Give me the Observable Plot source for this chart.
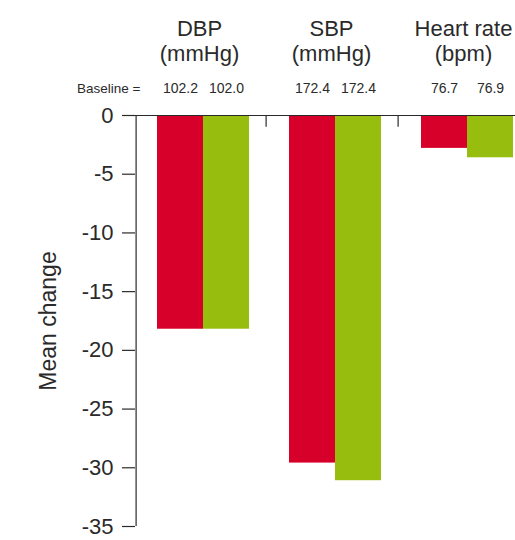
<!DOCTYPE html>
<html>
<head>
<meta charset="utf-8">
<script src="https://cdn.jsdelivr.net/npm/d3@7"></script>
<script src="https://cdn.jsdelivr.net/npm/@observablehq/plot@0.6"></script>
<style>
  html, body { margin: 0; padding: 0; background: #fff; overflow: hidden; }
  #chart svg { max-width: none !important; display: block; }
</style>
</head>
<body>
<div id="chart"></div>
<script>
// ---- data ----
const groups = ["DBP", "SBP", "Heart rate"];
const units = ["(mmHg)", "(mmHg)", "(bpm)"];
const series = ["Treatment A", "Treatment B"];
const meanChangeA = [-18.2, -29.6, -2.8];
const meanChangeB = [-18.2, -31.1, -3.6];
const baselineA = [102.2, 172.4, 76.7];
const baselineB = [102.0, 172.4, 76.9];
const baselineLabel = "Baseline =";
const yTicks = [0, -5, -10, -15, -20, -25, -30, -35];
const yLabel = "Mean change";

// ---- tables built from the arrays ----
const rows = groups.flatMap((g, i) => [
  {group: g, series: series[0], change: meanChangeA[i], baseline: baselineA[i]},
  {group: g, series: series[1], change: meanChangeB[i], baseline: baselineB[i]}
]);
const headerRows = groups.map((g, i) => ({group: g, header: g + "\n" + units[i]}));
const firstGroup = [{group: groups[0], series: series[0]}];
const boundaryRows = groups.slice(1).map(g => ({group: g, series: series[0]}));
const yMin = d3.min(yTicks), yMax = d3.max(yTicks);

const ink = "#2a2a2a";
const font = "'Liberation Sans', Arial, Helvetica, sans-serif";
const fmt = d3.format(".1f");

const chart = Plot.plot({
  width: 531,
  height: 540,
  marginLeft: 135,
  marginRight: 0,
  marginTop: 115,
  marginBottom: 14,
  style: {fontFamily: font, color: ink, background: "#fff"},
  fx: {domain: groups, padding: 0, axis: null},
  x: {domain: series, paddingInner: 0, paddingOuter: 0.41, align: 0.547, axis: null},
  y: {domain: [yMin, yMax]},
  color: {domain: series, range: ["#d6002a", "#97bd0e"]},
  marks: [
    Plot.barY(rows, {fx: "group", x: "series", y: "change", fill: "series"}),
    Plot.ruleY([0], {stroke: ink, strokeWidth: 1.2}),
    // y axis line (left edge of the first group)
    Plot.ruleX(firstGroup, {fx: "group", x: "series", y1: yMin, y2: yMax, stroke: ink, strokeWidth: 1.2, dx: -44.4}),
    // small separator ticks between groups
    Plot.ruleX(boundaryRows, {fx: "group", x: "series", y1: 0, y2: -1, stroke: ink, strokeWidth: 1.2, dx: -46.4}),
    Plot.axisY({
      ticks: yTicks,
      tickFormat: d => String(d),
      tickSize: 13,
      tickPadding: 9,
      fontSize: 22,
      stroke: ink,
      strokeWidth: 1.2,
      label: null
    }),
    Plot.text(firstGroup, {fx: "group", text: [yLabel], frameAnchor: "left", textAnchor: "middle", rotate: -90, dx: -87, fontSize: 23, fill: ink}),
    Plot.text(headerRows, {fx: "group", text: "header", frameAnchor: "top", lineAnchor: "bottom", dy: -54.3, dx: -2, fontSize: 22, lineHeight: 1.14, fill: ink}),
    Plot.text(rows, {fx: "group", x: "series", text: d => fmt(d.baseline), frameAnchor: "top", lineAnchor: "bottom", dy: -22.3, fontSize: 14, fill: ink}),
    Plot.text(firstGroup, {fx: "group", text: [baselineLabel], frameAnchor: "top-left", textAnchor: "end", lineAnchor: "bottom", dx: 5, dy: -22.3, fontSize: 13.5, fill: ink})
  ]
});
document.getElementById("chart").appendChild(chart);
</script>
</body>
</html>
